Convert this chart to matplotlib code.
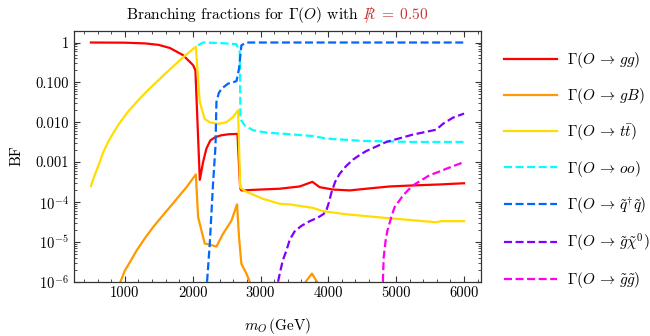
import numpy as np
import matplotlib
matplotlib.use('Agg')
import matplotlib.pyplot as plt
from matplotlib.ticker import FixedLocator, MultipleLocator, LogLocator, NullFormatter
from matplotlib.offsetbox import TextArea, HPacker, AnchoredOffsetbox

plt.rcParams['font.family'] = 'cmr10'
plt.rcParams['mathtext.fontset'] = 'cm'
plt.rcParams['axes.unicode_minus'] = False

# --- values (mass in GeV, branching fraction) ---
m_gg = [500, 1000, 1300, 1500, 1663, 1860, 2006, 2040, 2105, 2153, 2203, 2260, 2330,
        2420, 2530, 2660, 2700, 2720, 3000, 3283, 3577, 3764, 3872, 4068, 4314, 4560,
        4903, 5246, 5639, 6000]
bf_gg = [1.0, 0.99, 0.95, 0.87, 0.73, 0.48, 0.27, 0.2, 3.6e-4, 1.0e-3, 2.2e-3, 3.5e-3,
         4.2e-3, 4.7e-3, 5.0e-3, 5.1e-3, 2.2e-4, 1.95e-4, 2.05e-4, 2.15e-4, 2.45e-4,
         3.2e-4, 2.35e-4, 2.05e-4, 1.95e-4, 2.15e-4, 2.45e-4, 2.6e-4, 2.75e-4, 2.95e-4]

m_gB = [900, 1000, 1080, 1172, 1300, 1417, 1540, 1663, 1790, 1909, 2046, 2080, 2130,
        2178, 2252, 2350, 2448, 2571, 2654, 2683, 2718, 2792, 2841, 2900, 3600, 3666,
        3758, 3832, 3900, 6000]
bf_gB = [7e-7, 1.9e-6, 3.2e-6, 6.0e-6, 1.26e-5, 2.35e-5, 4.2e-5, 7.4e-5, 1.35e-4,
         2.35e-4, 4.9e-4, 4.2e-5, 1.9e-5, 9.1e-6, 8.5e-6, 7.6e-6, 1.6e-5, 3.4e-5,
         8.7e-5, 1.3e-5, 2.8e-6, 1.6e-6, 1e-6, 3e-7, 3e-7, 1e-6, 1.6e-6, 1e-6, 3e-7, 3e-7]

m_tt = [500, 540, 583, 630, 680, 750, 830, 926, 1050, 1172, 1320, 1467, 1610, 1761,
        1900, 2046, 2105, 2178, 2252, 2374, 2498, 2595, 2669, 2700, 2792, 3037, 3283,
        3430, 3773, 3920, 4265, 4903, 5590, 5660, 6000]
bf_tt = [2.5e-4, 4.0e-4, 6.2e-4, 1.0e-3, 1.75e-3, 3.1e-3, 5.4e-3, 9.8e-3, 1.86e-2,
         3.2e-2, 5.9e-2, 0.102, 0.174, 0.30, 0.49, 0.78, 3.2e-2, 1.2e-2, 1.0e-2, 9.1e-3,
         1.0e-2, 1.35e-2, 2.0e-2, 2.3e-4, 1.8e-4, 1.2e-4, 9.0e-5, 8.7e-5, 7.1e-5, 5.9e-5,
         4.9e-5, 3.9e-5, 3.1e-5, 3.3e-5, 3.3e-5]

m_oo = [2080, 2153, 2400, 2645, 2694, 2704, 2767, 2890, 3087, 3430, 3773, 3971, 4510,
        5246, 6000]
bf_oo = [0.85, 1.0, 0.97, 0.91, 0.57, 1.2e-2, 8.3e-3, 6.3e-3, 5.5e-3, 5.0e-3, 4.5e-3,
         3.9e-3, 3.4e-3, 3.2e-3, 3.2e-3]

m_qq = [2212, 2252, 2300, 2336, 2350, 2385, 2424, 2521, 2645, 2683, 2718, 2792, 6000]
bf_qq = [1e-6, 9e-6, 2.9e-4, 2.5e-3, 3.2e-2, 5.4e-2, 6.9e-2, 9.3e-2, 0.107, 0.22, 0.85,
         1.0, 1.0]

m_gchi = [3258, 3290, 3330, 3381, 3430, 3500, 3600, 3725, 3850, 3930, 3971, 4010, 4044,
          4100, 4167, 4260, 4362, 4460, 4560, 4854, 5246, 5590, 5688, 5835, 6000]
bf_gchi = [1e-6, 1.8e-6, 3.5e-6, 6.0e-6, 1.12e-5, 1.8e-5, 2.5e-5, 3.3e-5, 4.1e-5,
           5.0e-5, 6.2e-5, 1.0e-4, 1.7e-4, 3.2e-4, 5.1e-4, 7.9e-4, 1.15e-3, 1.5e-3,
           1.9e-3, 3.2e-3, 4.9e-3, 6.5e-3, 9.1e-3, 1.3e-2, 1.65e-2]

m_gg2 = [4804, 4815, 4844, 4870, 4928, 4976, 5050, 5099, 5172, 5246, 5370, 5492, 5615,
         5738, 5870, 6000]
bf_gg2 = [1e-6, 4.0e-6, 1.07e-5, 1.9e-5, 4.2e-5, 7.4e-5, 1.1e-4, 1.45e-4, 1.95e-4,
          2.6e-4, 3.5e-4, 4.7e-4, 5.6e-4, 6.8e-4, 8.3e-4, 1.0e-3]

series = [
    (m_gg, bf_gg, '#ff0000', '-', r'$\Gamma(O\,\rightarrow\,gg)$'),
    (m_gB, bf_gB, '#ff9900', '-', r'$\Gamma(O\,\rightarrow\,gB)$'),
    (m_tt, bf_tt, '#ffdd00', '-', r'$\Gamma(O\,\rightarrow\,t\bar{t})$'),
    (m_oo, bf_oo, '#00ffff', '--', r'$\Gamma(O\,\rightarrow\,oo)$'),
    (m_qq, bf_qq, '#0066ff', '--', r'$\Gamma(O\,\rightarrow\,\tilde{q}^{\dagger}\tilde{q})$'),
    (m_gchi, bf_gchi, '#8000ff', '--', r'$\Gamma(O\,\rightarrow\,\tilde{g}\tilde{\chi}^{0})$'),
    (m_gg2, bf_gg2, '#ff00ee', '--', r'$\Gamma(O\,\rightarrow\,\tilde{g}\tilde{g})$'),
]

ytick_vals = [1e-6, 1e-5, 1e-4, 1e-3, 1e-2, 1e-1, 1]
ytick_labels = [r'$10^{-6}$', r'$10^{-5}$', r'$10^{-4}$', '0.001', '0.010', '0.100', '1']

fig = plt.figure(figsize=(6.5, 3.36), dpi=100)
ax = fig.add_axes([0.1138, 0.1616, 0.6262, 0.7476])

for m, bf, color, ls, label in series:
    line, = ax.plot(m, bf, color=color, linestyle=ls, lw=1.6, label=label)
    if ls == '--':
        line.set_dashes((3.6, 1.6))

ax.set_yscale('log')
ax.set_xlim(250, 6250)
ax.set_ylim(1e-6, 2.0)
ax.yaxis.set_major_locator(FixedLocator(ytick_vals))
ax.set_yticklabels(ytick_labels)
ax.yaxis.set_minor_locator(LogLocator(base=10, subs=np.arange(2, 10)))
ax.yaxis.set_minor_formatter(NullFormatter())
ax.xaxis.set_major_locator(FixedLocator([1000, 2000, 3000, 4000, 5000, 6000]))
ax.xaxis.set_minor_locator(MultipleLocator(200))
ax.tick_params(which='both', direction='in', top=True, right=True, colors='#333333',
               labelcolor='black', labelsize=10.5)
ax.tick_params(which='major', length=4, width=0.8)
ax.tick_params(which='minor', length=2.2, width=0.6)
for sp in ax.spines.values():
    sp.set_color('#333333')
    sp.set_linewidth(0.9)

ax.set_xlabel(r'$m_O\,(\mathrm{GeV})$', fontsize=11, labelpad=11)
ax.set_ylabel('BF', fontsize=11, labelpad=9)

# title with red R-parity part
t1 = TextArea(r'Branching fractions for $\Gamma(O)$ with', textprops=dict(fontsize=11.2))
t2 = TextArea(r'$R\!\!\!\!/\,\;=\;0.50$', textprops=dict(fontsize=11.2, color='#c83737'))
box = HPacker(children=[t1, t2], align='baseline', pad=0, sep=2)
anch = AnchoredOffsetbox(loc='lower center', child=box, pad=0, frameon=False,
                         bbox_to_anchor=(0.5, 1.02), bbox_transform=ax.transAxes,
                         borderpad=0)
ax.add_artist(anch)

leg = ax.legend(loc='upper left', bbox_to_anchor=(1.042, 0.946), frameon=False,
                fontsize=11, handlelength=3.45, labelspacing=1.05, handletextpad=0.65,
                borderaxespad=0)

fig.savefig('out.png', dpi=100)
